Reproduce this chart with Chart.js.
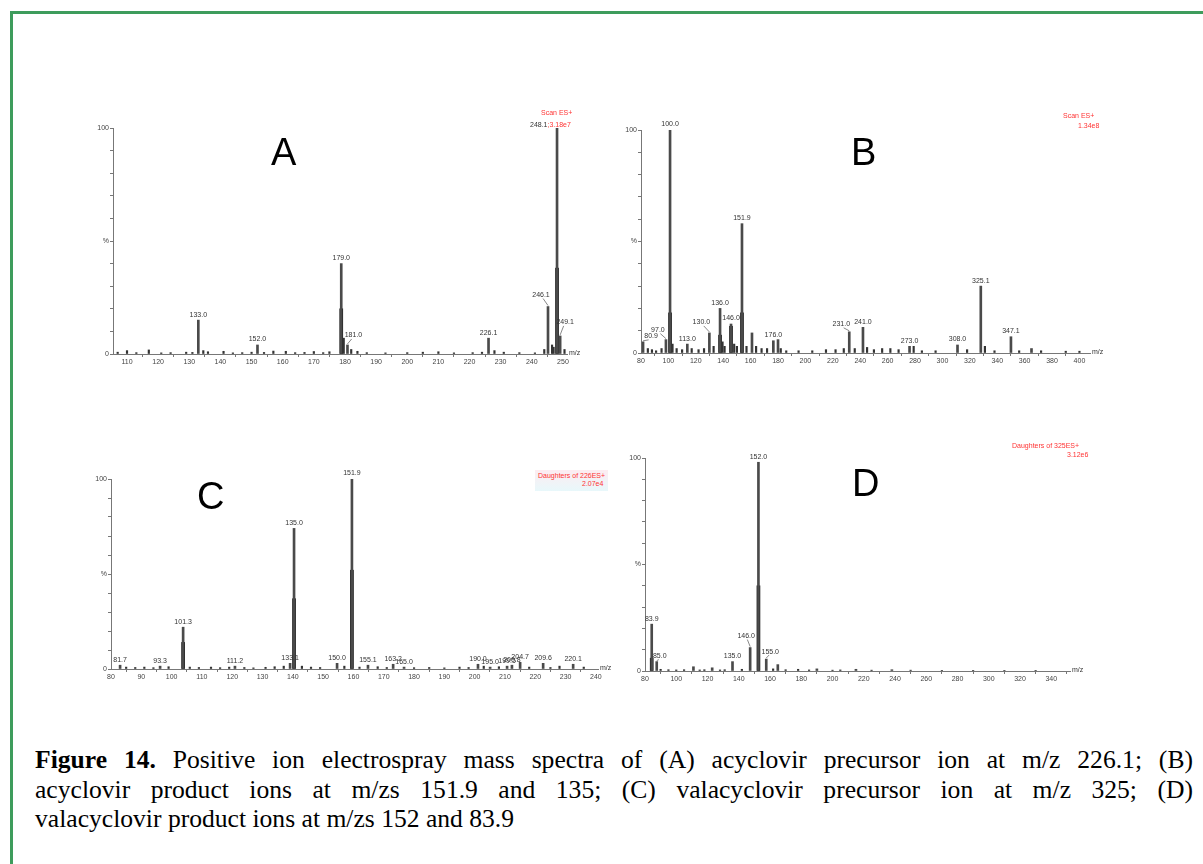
<!DOCTYPE html>
<html><head><meta charset="utf-8">
<script src="https://cdn.jsdelivr.net/npm/chart.js@4.4.0/dist/chart.umd.min.js"></script>
<style>
body{margin:0;background:#fff;width:1203px;height:864px;overflow:hidden;position:relative;font-family:"Liberation Sans",Arial,sans-serif}
#frame{position:absolute;left:10px;top:11px;width:1200px;height:860px;border-left:3px solid #3e9c5c;border-top:3px solid #3e9c5c;}
canvas{position:absolute}
.big{position:absolute;font-size:38px;color:#000;line-height:1}
.red{position:absolute;font-size:7px;color:#f33;white-space:nowrap;line-height:1}
.blk{color:#333}
.cap{position:absolute;left:35px;width:1158px;font-family:"Liberation Serif","Times New Roman",serif;font-size:25.6px;line-height:29.5px;color:#000;white-space:nowrap}
.j{text-align:justify;text-align-last:justify;white-space:normal}
</style></head>
<body>
<div id="frame"></div>
<canvas id="cA"></canvas><canvas id="cB"></canvas><canvas id="cC"></canvas><canvas id="cD"></canvas>
<div class="big" style="left:271px;top:133px">A</div>
<div class="big" style="left:851px;top:133px">B</div>
<div class="big" style="left:197px;top:477px">C</div>
<div class="big" style="left:852px;top:464px">D</div>
<div class="red" style="left:541px;top:109px">Scan ES+</div>
<div class="red" style="left:530px;top:121px"><span class="blk">248.1</span>;3.18e7</div>
<div class="red" style="left:1063px;top:112px">Scan ES+</div>
<div class="red" style="left:1078px;top:122px">1.34e8</div>
<div class="red" style="left:535px;top:470px;background:linear-gradient(#fdecf1,#e8f8fb);padding:2px 3px;line-height:1.2">Daughters of 226ES+<br><span style="padding-left:44px">2.07e4</span></div>
<div class="red" style="left:1012px;top:442px">Daughters of 325ES+</div>
<div class="red" style="left:1067px;top:451px">3.12e6</div>
<div class="cap j" style="top:745px"><b>Figure 14.</b> Positive ion electrospray mass spectra of (A) acyclovir precursor ion at m/z 226.1; (B)</div>
<div class="cap j" style="top:775px">acyclovir product ions at m/zs 151.9 and 135; (C) valacyclovir precursor ion at m/z 325; (D)</div>
<div class="cap" style="top:804px">valacyclovir product ions at m/zs 152 and 83.9</div>
<script>
// ---------- Panel A ----------
const A_mz  = [132.9, 151.9, 178.8, 180.8, 226.1, 245.2, 248.1, 249.1];
const A_int = [15, 4, 40, 4, 7, 21, 100, 8];
const A_lab = ["133.0", "152.0", "179.0", "181.0", "226.1", "246.1", "", "249.1"];
const A_inner_mz  = [178.8, 248.1];
const A_inner_int = [20, 38];
const A_noise_mz  = [107,110,113,117,121,124,129,131,134.5,136,141,144,147,150,154,157,161,164,167,170,173,175,179.6,182,184,187,193,200,205,210,215,221,224,228,231,236,241,244,246.5,247,250.5];
const A_noise_int = [0.8,1.5,0.6,1.8,0.5,0.6,0.8,0.7,1.5,1.0,1.2,0.5,0.6,0.8,0.7,1.3,1.2,0.6,0.7,1.1,0.6,1.0,7,2,1.2,0.6,0.5,0.6,0.8,1,0.5,0.6,0.8,1.5,0.8,0.6,0.5,2,4,3,2];
// ---------- Panel B ----------
const B_mz  = [81.5, 98.2, 101.2, 113.8, 129.9, 137.7, 145.7, 153.7, 161, 176.6, 180, 232, 242, 276, 311, 328, 350, 365];
const B_int = [5, 6, 100, 4, 9, 20, 13, 58, 9, 5.5, 6, 9.5, 11.5, 3, 3.6, 30, 7.3, 2];
const B_lab = ["80.9","97.0","100.0","113.0","130.0","136.0","146.0","151.9","","176.0","","231.0","241.0","273.0","308.0","325.1","347.1",""];
const B_inner_mz  = [101.2, 153.7, 137.7, 145.7];
const B_inner_int = [18, 18, 8, 12];
const B_noise_mz  = [85,88,91,95,103,106,110,117,122,126,133,139.5,141,148,150,157,164,168,172,182,186,195,205,215,222,228,236,245,250,256,262,268,279,285,295,318,331,338,356,372,390,400];
const B_noise_int = [2,1.5,1,2,4,2,1.5,2,1.5,2,3,5,3,4,3,3,3,2,2,2,1,1,1,1.5,1.5,2,2,2.5,1.5,2,2,1.5,3,1,1,1.5,3,1,1,1,0.8,0.8];
// ---------- Panel C ----------
const C_mz  = [83, 96.2, 103.8, 120.9, 139.1, 140.4, 154.6, 159.5, 164.8, 173.1, 176.7, 201.1, 205.1, 210.7, 212.3, 215, 222.6, 232.5];
const C_int = [2, 1.5, 22, 1.5, 3, 74, 3, 100, 2, 2.5, 1, 2.5, 1, 1.5, 2, 3.5, 3, 2.5];
const C_lab = ["81.7","93.3","101.3","111.2","133.1","135.0","150.0","151.9","155.1","163.2","165.0","190.0","195.0","199.5","200.8","204.7","209.6","220.1"];
const C_inner_mz  = [140.4, 159.5, 103.8];
const C_inner_int = [37, 52, 14];
const C_noise_mz  = [85,88,91,94,99,106,109,113,116,119,124,127,131,134,137,143,146,149,157,162,168,171,180,185,190,195,198,203,208,218,225,228,236];
const C_noise_int = [1,0.8,1,0.7,1.2,1,0.8,1,0.7,1,0.8,0.6,0.9,1.2,1.5,1.5,1,0.8,1.5,1,1.2,0.8,0.7,0.8,0.6,1,0.8,1.5,1.2,1,0.8,1.5,1];
// ---------- Panel D ----------
const D_mz  = [84.3, 87.5, 111, 123, 136, 147.3, 152.6, 157.6, 165, 190, 215, 238];
const D_int = [22, 4.4, 2, 1.5, 4.4, 11, 98, 5.6, 3, 1, 0.8, 0.6];
const D_lab = ["83.9","85.0","","","135.0","146.0","152.0","155.0","","","",""];
const D_inner_mz  = [84.3, 152.6];
const D_inner_int = [6, 40];
const D_noise_mz  = [90,95,100,105,115,118,128,131,142,162,170,178,185,200,205,225,250,270,290,310,330];
const D_noise_int = [0.8,0.6,0.5,0.6,0.5,0.6,0.5,0.6,0.8,1,0.6,0.8,0.5,0.4,0.5,0.4,0.4,0.3,0.3,0.3,0.3];

// ---------- layout (positions only) ----------
const GEOM = {
  A:{left:113,right:567,top:128,bottom:354,min:105.5,max:251.3,step:10, dx:{3:6,5:-7,7:5}, dy:{3:-4,5:-6,7:-8}},
  B:{left:641,right:1090,top:130,bottom:353,min:80,max:407.7,step:20, dx:{0:8,1:-8,4:-8,11:-8}, dy:{1:-4,4:-5,11:-2}},
  C:{left:111,right:598,top:479,bottom:669,min:80,max:240.7,step:10, dx:{}, dy:{}},
  D:{left:645,right:1070,top:458,bottom:671,min:80,max:352,step:20, dx:{1:3,5:-4,7:4}, dy:{5:-6,7:-2}}
};

const zip = (xs, ys) => xs.map((x,i)=>({x:x, y:ys[i]}));

const peakLabels = {
  id:'peakLabels',
  afterDatasetsDraw(chart, args, o){
    const ctx = chart.ctx, x = chart.scales.x, y = chart.scales.y;
    ctx.save();
    ctx.font = '7px "Liberation Sans", Arial, sans-serif';
    ctx.fillStyle = '#333'; ctx.strokeStyle = '#555'; ctx.lineWidth = 0.7;
    ctx.textAlign = 'center'; ctx.textBaseline = 'bottom';
    o.mz.forEach((m,i)=>{
      const t = o.text[i]; if(!t) return;
      const px = x.getPixelForValue(m), py = y.getPixelForValue(o.int[i]);
      const dx = o.dx[i]||0, dy = o.dy[i]||0;
      if(dx||dy){
        ctx.beginPath(); ctx.moveTo(px, py-1); ctx.lineTo(px+dx*0.7, py-2+dy); ctx.stroke();
      }
      ctx.fillText(t, px+dx, py-2+dy);
    });
    ctx.textAlign='left'; ctx.textBaseline='middle';
    ctx.fillText('m/z', x.right+2, y.bottom-1);
    ctx.restore();
  }
};

function makeChart(id, g, main, mainI, lab, inner, innerI, noise, noiseI){
  const padT=24, padR=22, Yw=24, Xh=16;
  const cv = document.getElementById(id);
  const w = Yw + (g.right-g.left) + padR, h = padT + (g.bottom-g.top) + Xh;
  cv.style.left = (g.left - Yw)+'px'; cv.style.top = (g.top - padT)+'px';
  cv.width = w; cv.height = h; cv.style.width = w+'px'; cv.style.height = h+'px';
  new Chart(cv, {
    type:'bar',
    data:{datasets:[
      {data:zip(noise,noiseI), backgroundColor:'#333', barThickness:1.5, grouped:false},
      {data:zip(main,mainI), backgroundColor:'#4a4a4a', barThickness:2, grouped:false},
      {data:zip(inner,innerI), backgroundColor:'#111', barThickness:3, grouped:false}
    ]},
    options:{
      responsive:false, animation:false, devicePixelRatio:1,
      layout:{padding:{top:padT,right:padR,left:0,bottom:0}, autoPadding:false},
      plugins:{legend:{display:false}, tooltip:{enabled:false},
        peakLabels:{mz:main, int:mainI, text:lab, dx:g.dx, dy:g.dy}},
      scales:{
        x:{type:'linear', min:g.min, max:g.max, offset:false,
           afterFit:s=>{s.height=Xh;},
           grid:{display:true, drawOnChartArea:false, tickLength:3, color:'#777'},
           border:{color:'#777', width:1},
           ticks:{stepSize:g.step, includeBounds:false, autoSkip:false, maxRotation:0,
                  font:{size:7, family:'"Liberation Sans", Arial'}, color:'#444', padding:1}},
        y:{min:0, max:100, afterFit:s=>{s.width=Yw;},
           grid:{drawOnChartArea:false, tickLength:3, color:'#777'},
           border:{color:'#777', width:1},
           ticks:{stepSize:10, autoSkip:false, font:{size:7, family:'"Liberation Sans", Arial'}, color:'#444', padding:1,
                  callback:v=> v===0?'0':(v===50?'%':(v===100?'100':''))}}
      }
    },
    plugins:[peakLabels]
  });
}

makeChart('cA', GEOM.A, A_mz, A_int, A_lab, A_inner_mz, A_inner_int, A_noise_mz, A_noise_int);
makeChart('cB', GEOM.B, B_mz, B_int, B_lab, B_inner_mz, B_inner_int, B_noise_mz, B_noise_int);
makeChart('cC', GEOM.C, C_mz, C_int, C_lab, C_inner_mz, C_inner_int, C_noise_mz, C_noise_int);
makeChart('cD', GEOM.D, D_mz, D_int, D_lab, D_inner_mz, D_inner_int, D_noise_mz, D_noise_int);
</script>
</body></html>
